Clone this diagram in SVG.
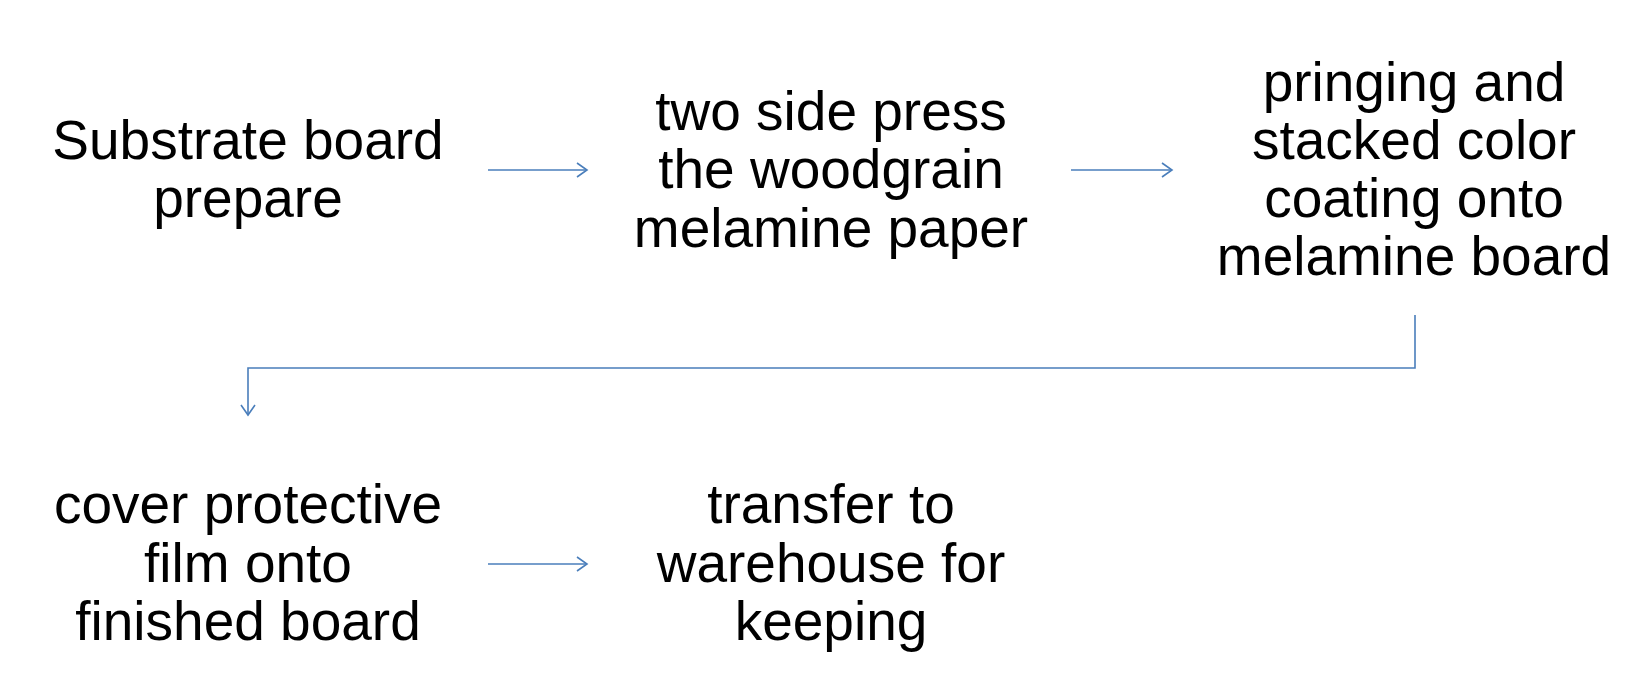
<svg xmlns="http://www.w3.org/2000/svg" width="1644" height="696" viewBox="0 0 1644 696">
<style>
text{font-family:"Liberation Sans",Arial,sans-serif;font-size:55px;fill:#000;text-anchor:middle}
.c{fill:none;stroke:#4A7EBB;stroke-width:1.6}
</style>
<defs>
<marker id="ah" markerUnits="userSpaceOnUse" markerWidth="20" markerHeight="20" viewBox="-12 -10 16 20" refX="0" refY="0" orient="auto">
<path d="M-10,-7 L0,0 L-10,7" fill="none" stroke="#4A7EBB" stroke-width="1.6"/>
</marker>
</defs>
<rect width="1644" height="696" fill="#fff"/>
<g id="n1"><text x="248" y="159">Substrate board</text><text x="248" y="217">prepare</text></g>
<g id="n2"><text x="831" y="130">two side press</text><text x="831" y="188">the woodgrain</text><text x="831" y="247">melamine paper</text></g>
<g id="n3"><text x="1414" y="101">pringing and</text><text x="1414" y="159">stacked color</text><text x="1414" y="217">coating onto</text><text x="1414" y="275">melamine board</text></g>
<g id="n4"><text x="248" y="523">cover protective</text><text x="248" y="582">film onto</text><text x="248" y="640">finished board</text></g>
<g id="n5"><text x="831" y="523">transfer to</text><text x="831" y="582">warehouse for</text><text x="831" y="640">keeping</text></g>
<g id="connectors">
<path class="c" d="M488,170 H587" marker-end="url(#ah)"/>
<path class="c" d="M1071,170 H1172" marker-end="url(#ah)"/>
<path class="c" d="M1415,315 V368 H248 V415" marker-end="url(#ah)"/>
<path class="c" d="M488,564 H587" marker-end="url(#ah)"/>
</g>
</svg>
